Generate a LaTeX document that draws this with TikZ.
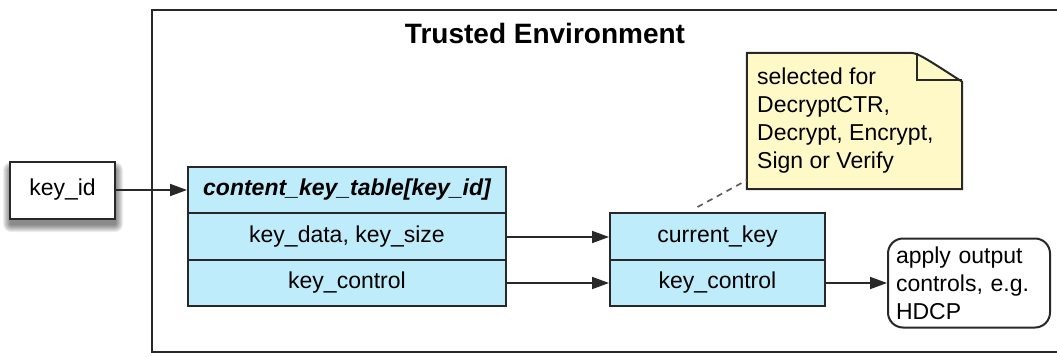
\documentclass[tikz,border=0pt]{standalone}
\usepackage{fontspec}
\setmainfont{Liberation Sans}
\usetikzlibrary{arrows.meta}
\definecolor{cellblue}{RGB}{190,236,250}
\definecolor{noteyellow}{RGB}{255,249,200}
\definecolor{edge}{RGB}{40,40,40}
\tikzset{
  base/.style={draw=edge, line width=2pt, inner sep=0pt, font=\fontsize{23}{28}\selectfont},
  cell/.style={base, fill=cellblue, minimum width=#1},
  plainbox/.style={base, fill=white},
  arr/.style={draw=edge, line width=1.8pt, -{Triangle[length=17pt,width=12pt]}},
  link/.style={draw=edge!75, line width=1.7pt, dash pattern=on 6pt off 5pt},
}
\begin{document}
\begin{tikzpicture}[x=1pt,y=-1pt]
\useasboundingbox (0,0) rectangle (1057,356);
\fill[white] (0,0) rectangle (1057,356);
\begin{scope}
\clip (0,0) rectangle (1057,356);
\draw[draw=edge, line width=2.2pt] (1080,10) -- (152,10) -- (152,352) -- (1080,352);
\end{scope}
% soft shadow under key_id
\foreach \i in {1,...,8} {
  \fill[black, opacity=0.07, rounded corners=\i pt] (11-\i,170-\i) rectangle (115+\i,224+\i);
}
\node[font=\bfseries\fontsize{28}{34}\selectfont] (title) at (545,33) {Trusted Environment};
% key_id
\node[plainbox, minimum width=105, minimum height=57] (kid) at (62.5,190) {key\_id};
% table
\node[cell=318, minimum height=46] (t0) at (347,190) {\bfseries\itshape content\_key\_table[key\_id]};
\node[cell=318, minimum height=47] (t1) at (347,236.5) {key\_data, key\_size};
\node[cell=318, minimum height=46] (t2) at (347,283) {key\_control};
% current key
\node[cell=215, minimum height=47] (ck) at (717.5,236.5) {current\_key};
\node[cell=215, minimum height=46] (kc) at (717.5,283) {key\_control};
% output
\node[base, rounded corners=15pt, minimum width=162, minimum height=89, text width=146, align=left, inner xsep=8pt] (out) at (969,283) {apply output\\controls, e.g.\\HDCP};
% note
\node[minimum width=215, minimum height=136, inner sep=0pt] (note) at (854.5,121) {};
\draw[draw=edge, line width=2pt, fill=noteyellow]
  (note.south west) -- (note.north west) -- ([xshift=-55pt]note.north east)
  .. controls ([xshift=-45pt]note.north east) .. ([yshift=-29pt]note.north east)
  -- (note.south east) -- cycle;
\draw[draw=edge, line width=1.6pt] ([xshift=-45pt]note.north east) -- ([xshift=-45pt,yshift=-27pt]note.north east) -- ([yshift=-27pt]note.north east);
\node[anchor=north west, inner sep=0pt, align=left, font=\fontsize{23}{28}\selectfont] (notetext) at (757,68) {selected for\\DecryptCTR,\\Decrypt, Encrypt,\\Sign or Verify};
% connectors
\draw[arr] (kid) -- (t0);
\draw[arr] ([yshift=-0.5pt]t1.east) -- ([yshift=-0.5pt]ck.west);
\draw[arr] (t2) -- (kc);
\draw[arr] (kc) -- (out);
\coordinate (ckanchor) at ([xshift=-20pt,yshift=5pt]ck.north);
\draw[link] (ckanchor) -- ([yshift=9pt]note.south west);
\end{tikzpicture}
\end{document}
